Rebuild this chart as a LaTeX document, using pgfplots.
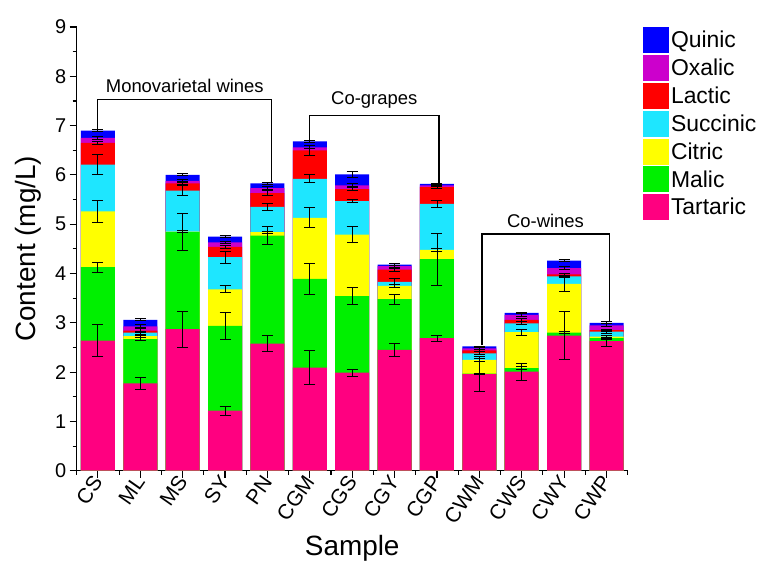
\documentclass[border=0pt]{standalone}
\usepackage{pgfplots}
\usepackage{pgfplotstable}
\pgfplotsset{compat=1.18}
\usepackage{fontspec}
\setmainfont{Liberation Sans}

\definecolor{cTar}{HTML}{FF0080}
\definecolor{cMal}{HTML}{00F000}
\definecolor{cCit}{HTML}{FFFF00}
\definecolor{cSuc}{HTML}{1EE6FF}
\definecolor{cLac}{HTML}{FF0000}
\definecolor{cOxa}{HTML}{CC00CC}
\definecolor{cQui}{HTML}{0000FF}

% cumulative tops of each stacked segment (mg/L) and their errors
\pgfplotstableread{
x  Tar  eTar Mal  eMal Cit  eCit Suc  eSuc Lac  eLac Oxa  eOxa Qui  eQui
0  2.64 0.33 4.13 0.10 5.26 0.23 6.21 0.21 6.65 0.03 6.75 0.03 6.90 0.02
1  1.77 0.13 2.67 0.03 2.73 0.02 2.80 0.03 2.84 0.04 2.93 0.03 3.06 0.02
2  2.87 0.36 4.84 0.38 4.85 0.02 5.68 0.10 5.83 0.03 5.88 0.03 6.00 0.02
3  1.22 0.09 2.94 0.27 3.68 0.07 4.33 0.12 4.54 0.03 4.63 0.03 4.75 0.02
4  2.58 0.17 4.77 0.19 4.84 0.02 5.35 0.07 5.63 0.05 5.73 0.03 5.83 0.02
5  2.09 0.34 3.89 0.31 5.13 0.20 5.92 0.08 6.50 0.10 6.56 0.03 6.68 0.02
6  1.99 0.07 3.54 0.17 4.79 0.17 5.47 0.03 5.71 0.03 5.79 0.03 6.01 0.07
7  2.45 0.13 3.48 0.10 3.75 0.03 3.83 0.06 4.08 0.03 4.15 0.02 4.18 0.02
8  2.69 0.06 4.29 0.53 4.48 0.03 5.41 0.08 5.75 0.03 5.79 0.02 5.82 0.01
9  1.96 0.36 1.97 0.01 2.25 0.03 2.38 0.03 2.44 0.02 2.48 0.02 2.52 0.01
10 2.01 0.17 2.08 0.03 2.81 0.06 2.99 0.03 3.06 0.03 3.16 0.03 3.20 0.02
11 2.74 0.49 2.80 0.02 3.79 0.16 3.94 0.03 3.98 0.03 4.11 0.03 4.26 0.02
12 2.63 0.11 2.69 0.02 2.72 0.03 2.82 0.03 2.85 0.02 2.95 0.03 3.00 0.02
}\acids

\begin{document}
\begin{tikzpicture}
\begin{axis}[
  scale only axis,
  width=551bp, height=443.7bp,
  xmin=-0.5, xmax=12.5,
  ymin=0, ymax=9,
  ybar, bar width=34bp, bar shift=0pt,
  axis x line*=bottom, axis y line*=left,
  axis line style={line width=1.3bp},
  tick style={line width=1.1bp, black},
  tick align=outside,
  major tick length=7bp, minor tick length=4bp,
  xtick={0,...,12},
  minor xtick={-0.5,0.5,...,12.5},
  xticklabels={CS,ML,MS,SY,PN,CGM,CGS,CGY,CGP,CWM,CWS,CWY,CWP},
  xticklabel style={rotate=55, anchor=east, xshift=3bp, font=\fontsize{21}{24}\selectfont},
  ytick={0,...,9},
  minor ytick={0.5,1.5,...,8.5},
  yticklabel style={font=\fontsize{20}{24}\selectfont},
  /pgf/number format/assume math mode=true,
  xlabel={Sample}, ylabel={Content (mg/L)},
  label style={font=\fontsize{28}{32}\selectfont},
  xlabel style={yshift=-2bp},
  ylabel style={yshift=7bp},
  legend style={draw=none, fill=none, at={(1.022,1.005)}, anchor=north west,
    font=\fontsize{23}{26}\selectfont, row sep=1.9bp,
    /tikz/every even column/.append style={column sep=5bp}},
  legend cell align=left,
  legend image code/.code={\fill[#1] (0bp,-13bp) rectangle (26bp,13bp);},
  clip=false,
]
\addplot[fill=cQui, draw=none] table[x=x, y=Qui] {\acids};
\addplot[fill=cOxa, draw=none] table[x=x, y=Oxa] {\acids};
\addplot[fill=cLac, draw=none] table[x=x, y=Lac] {\acids};
\addplot[fill=cSuc, draw=none] table[x=x, y=Suc] {\acids};
\addplot[fill=cCit, draw=none] table[x=x, y=Cit] {\acids};
\addplot[fill=cMal, draw=none] table[x=x, y=Mal] {\acids};
\addplot[fill=cTar, draw=none] table[x=x, y=Tar] {\acids};
\legend{Quinic, Oxalic, Lactic, Succinic, Citric, Malic, Tartaric}

\pgfplotsset{errbar/.style={forget plot, draw=none, mark=none, sharp plot,
  error bars/.cd, y dir=both, y explicit,
  error bar style={black, line width=0.9bp},
  error mark options={rotate=90, mark size=5.5bp, black, line width=0.9bp}}}
\addplot[errbar] table[x=x, y=Tar, y error=eTar] {\acids};
\addplot[errbar] table[x=x, y=Mal, y error=eMal] {\acids};
\addplot[errbar] table[x=x, y=Cit, y error=eCit] {\acids};
\addplot[errbar] table[x=x, y=Suc, y error=eSuc] {\acids};
\addplot[errbar] table[x=x, y=Lac, y error=eLac] {\acids};
\addplot[errbar] table[x=x, y=Oxa, y error=eOxa] {\acids};
\addplot[errbar] table[x=x, y=Qui, y error=eQui] {\acids};

\draw[line width=1.2bp] (axis cs:0,6.92) -- (axis cs:0,7.53) -- (axis cs:4.09,7.53) -- (axis cs:4.09,5.85);
\node[anchor=south, font=\fontsize{18.5}{22}\selectfont, inner sep=0pt] at (axis cs:2.05,7.66) {Monovarietal wines};
\draw[line width=1.2bp] (axis cs:5.0,6.70) -- (axis cs:5.0,7.21) -- (axis cs:8.05,7.21) -- (axis cs:8.05,5.84);
\node[anchor=south, font=\fontsize{18.5}{22}\selectfont, inner sep=0pt] at (axis cs:6.52,7.34) {Co-grapes};
\draw[line width=1.2bp] (axis cs:9.06,2.54) -- (axis cs:9.06,4.80) -- (axis cs:12.07,4.80) -- (axis cs:12.07,3.02);
\node[anchor=south, font=\fontsize{18.5}{22}\selectfont, inner sep=0pt] at (axis cs:10.56,4.93) {Co-wines};
\end{axis}
\pgfresetboundingbox
\path[use as bounding box] (-76.7bp,-107.3bp) rectangle (686.3bp,470.7bp);
\end{tikzpicture}
\end{document}
